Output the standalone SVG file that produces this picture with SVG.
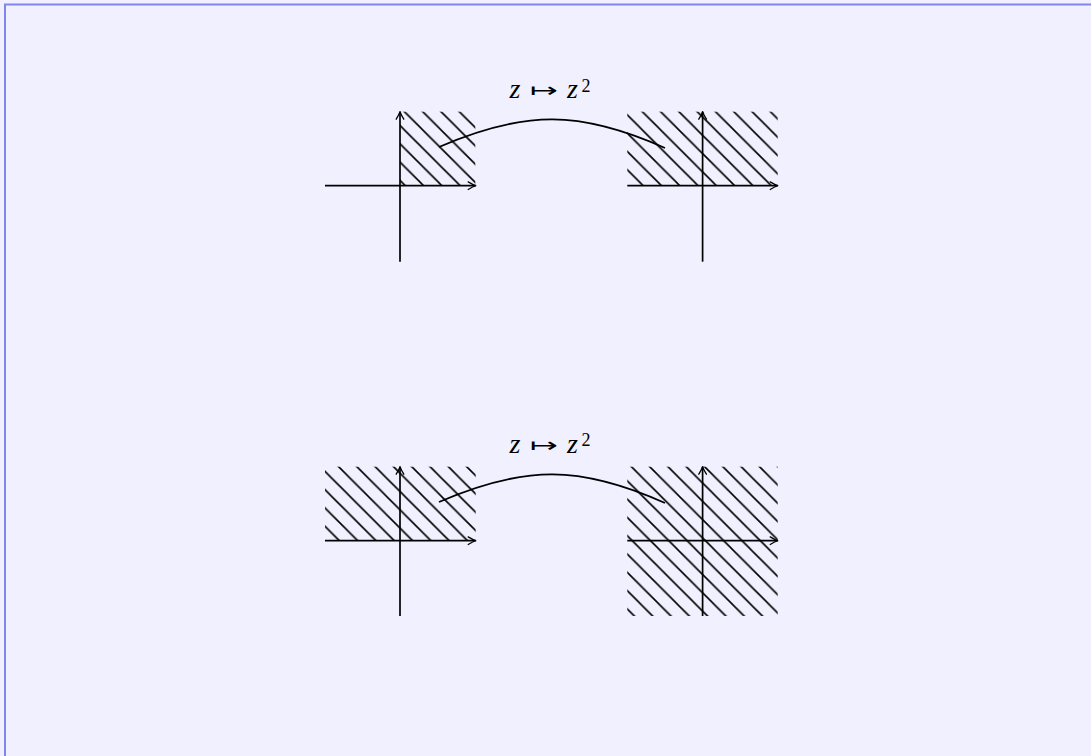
<svg xmlns="http://www.w3.org/2000/svg" width="1091" height="756" viewBox="0 0 1091 756">
  <defs>
    <pattern id="hatch" patternUnits="userSpaceOnUse" x="0" y="0" width="18.3" height="18.3">
      <path d="M-2,-2 L20.3,20.3 M-2,16.3 L2,20.3 M16.3,-2 L20.3,2" stroke="#000" stroke-width="1.6" fill="none"/>
    </pattern>
    <marker id="arr" viewBox="-9 -5 11 10" refX="0" refY="0" markerWidth="11" markerHeight="10" markerUnits="userSpaceOnUse" orient="auto">
      <path d="M-7.5,-3.8 Q-2.5,-0.8 0,0 Q-2.5,0.8 -7.5,3.8" fill="none" stroke="#000" stroke-width="1.3" stroke-linecap="round" stroke-linejoin="round"/>
    </marker>
    <style>
      .ax { stroke:#000; stroke-width:1.7; fill:none; marker-end:url(#arr); }
      .hz { fill:url(#hatch); stroke:none; }
      .cv { stroke:#000; stroke-width:1.8; fill:none; }
      .lbl { font-family:"Liberation Serif", "DejaVu Serif", serif; fill:#000; }
      .mz { font-size:28px; font-style:italic; }
      .ma { font-family:"DejaVu Sans", sans-serif; font-size:20px; }
      .sup { font-size:18px; }
    </style>
  </defs>
  <rect x="0" y="0" width="1091" height="756" fill="#f0f0fe"/>
  <rect x="5" y="4.5" width="1200" height="900" fill="#f0f0fe" stroke="#8484f0" stroke-width="2"/>

  <g id="top-left">
    <rect class="hz" x="400" y="111.7" width="75.3" height="74"/>
    <line class="ax" x1="325" y1="185.7" x2="475.7" y2="185.7"/>
    <line class="ax" x1="400" y1="261.7" x2="400" y2="111.7"/>
  </g>
  <g id="top-right">
    <rect class="hz" x="627.3" y="111.7" width="150.4" height="74"/>
    <line class="ax" x1="627.3" y1="185.7" x2="777.7" y2="185.7"/>
    <line class="ax" x1="702.6" y1="261.7" x2="702.6" y2="111.7"/>
  </g>
  <g id="bottom-left">
    <rect class="hz" x="325" y="466.7" width="150.7" height="74"/>
    <line class="ax" x1="325" y1="540.7" x2="475.7" y2="540.7"/>
    <line class="ax" x1="400" y1="616" x2="400" y2="466.7"/>
  </g>
  <g id="bottom-right">
    <rect class="hz" x="627.3" y="466.7" width="150.4" height="149.3"/>
    <line class="ax" x1="627.3" y1="540.7" x2="777.7" y2="540.7"/>
    <line class="ax" x1="702.6" y1="616" x2="702.6" y2="466.7"/>
  </g>

  <g id="connectors">
    <path class="cv" d="M439,147 C 525,110 580,110 665,148"/>
    <path class="cv" d="M439,502 C 525,465 580,465 665,503"/>
  </g>

  <g id="label-top">
    <text class="lbl mz" x="509.5" y="97.7">z</text>
    <text class="lbl ma" x="530" y="97" textLength="28" lengthAdjust="spacingAndGlyphs">↦</text>
    <text class="lbl mz" x="567" y="97.7">z</text>
    <text class="lbl sup" x="581.5" y="91.5">2</text>
  </g>
  <g id="label-bottom">
    <text class="lbl mz" x="509.5" y="452.5">z</text>
    <text class="lbl ma" x="530" y="451.8" textLength="28" lengthAdjust="spacingAndGlyphs">↦</text>
    <text class="lbl mz" x="567" y="452.5">z</text>
    <text class="lbl sup" x="581.5" y="446.3">2</text>
  </g>
</svg>
